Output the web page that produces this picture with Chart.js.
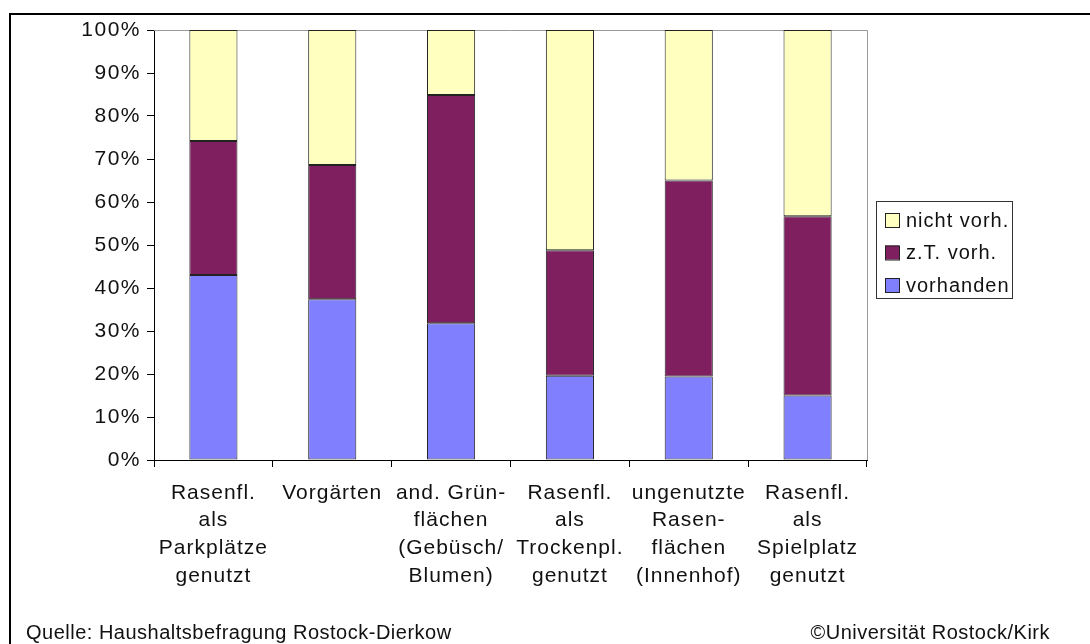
<!DOCTYPE html>
<html>
<head>
<meta charset="utf-8">
<script src="https://cdn.jsdelivr.net/npm/chart.js@4/dist/chart.umd.min.js"></script>
<style>
    body { margin: 0; background: #fff; overflow: hidden; }
    .wrap { position: relative; width: 1090px; height: 644px; }
    .frame { position: absolute; left: 9px; top: 13px; width: 1100px; height: 700px; border: 2px solid #000; }
    canvas { position: absolute; left: 0; top: 0; }
    .foot { position: absolute; top: 621px; font: 20px/22px "Liberation Sans", Arial, sans-serif; color: #111; letter-spacing: 0.5px; }
</style>
</head>
<body>
<div class="wrap">
    <div class="frame"></div>
    <canvas class="js-chart" width="1090" height="644"></canvas>
    <div class="foot" style="left: 26px;">Quelle: Haushaltsbefragung Rostock-Dierkow</div>
    <div class="foot" style="right: 40px;">©Universität Rostock/Kirk</div>
</div>
<script>
const ctx = document.querySelector('.js-chart').getContext('2d');

const categories = [
    ['Rasenfl.', 'als', 'Parkplätze', 'genutzt'],
    ['Vorgärten'],
    ['and. Grün-', 'flächen', '(Gebüsch/', 'Blumen)'],
    ['Rasenfl.', 'als', 'Trockenpl.', 'genutzt'],
    ['ungenutzte', 'Rasen-', 'flächen', '(Innenhof)'],
    ['Rasenfl.', 'als', 'Spielplatz', 'genutzt'],
];
const vorhanden = [43.0, 37.4, 31.8, 19.6, 19.4, 15.0];
const teilweise = [31.2, 31.2, 53.1, 29.2, 45.6, 41.7];
const nichtVorh = [25.8, 31.4, 15.1, 51.2, 35.0, 43.3];
const yTicks = [0, 10, 20, 30, 40, 50, 60, 70, 80, 90, 100];

const FONT = '"Liberation Sans", Arial, sans-serif';

// the old office rendering spreads letters out a little
function spreadTicks(scale, px) {
    const draw = scale.drawLabels.bind(scale);
    scale.drawLabels = function (area) {
        const c = this.ctx;
        c.save();
        c.letterSpacing = px + 'px';
        draw(area);
        c.restore();
    };
}

// gray top/right edge of the plot area
const plotFrame = {
    id: 'plotFrame',
    beforeDatasetsDraw(chart) {
        const { ctx, chartArea: a } = chart;
        ctx.save();
        ctx.strokeStyle = '#999';
        ctx.lineWidth = 1;
        ctx.beginPath();
        ctx.moveTo(a.left, a.top + 0.5);
        ctx.lineTo(a.right + 0.5, a.top + 0.5);
        ctx.lineTo(a.right + 0.5, a.bottom);
        ctx.stroke();
        ctx.restore();
    }
};

// boxed legend, reversed order like Excel
const boxLegend = {
    id: 'boxLegend',
    afterDraw(chart) {
        const { ctx, chartArea: a } = chart;
        const x = a.right + 9, y = 201, w = 136, h = 97;
        ctx.save();
        ctx.letterSpacing = '1px';
        ctx.strokeStyle = '#333';
        ctx.lineWidth = 1;
        ctx.strokeRect(x + 0.5, y + 0.5, w, h);
        ctx.font = '20px ' + FONT;
        ctx.textBaseline = 'middle';
        const sets = chart.data.datasets.slice().reverse();
        sets.forEach((ds, i) => {
            const cy = y + 19 + i * 32.5;
            ctx.fillStyle = ds.backgroundColor;
            ctx.fillRect(x + 9, cy - 7, 14, 14);
            ctx.strokeStyle = '#222';
            ctx.strokeRect(x + 9.5, cy - 6.5, 14, 14);
            ctx.fillStyle = '#111';
            ctx.fillText(ds.label, x + 30, cy + 1);
        });
        ctx.restore();
    }
};

new Chart(ctx, {
    type: 'bar',
    data: {
        labels: categories,
        datasets: [
            { label: 'vorhanden', data: vorhanden, backgroundColor: '#8080ff' },
            { label: 'z.T. vorh.', data: teilweise, backgroundColor: '#7f1f5f' },
            { label: 'nicht vorh.', data: nichtVorh, backgroundColor: '#ffffc0' },
        ].map(ds => ({
            ...ds,
            borderColor: '#222',
            borderWidth: 1,
            borderSkipped: false,
            categoryPercentage: 1,
            barPercentage: 0.405,
        }))
    },
    options: {
        responsive: false,
        animation: false,
        layout: { padding: { left: 0, top: 30, right: 223, bottom: 0 } },
        plugins: {
            legend: { display: false },
            tooltip: { enabled: false },
        },
        scales: {
            x: {
                stacked: true,
                grid: { drawOnChartArea: false, drawTicks: true, tickLength: 7, color: '#000', offset: true },
                border: { display: true, color: '#000', width: 1 },
                ticks: {
                    color: '#111',
                    font: { family: FONT, size: 21, lineHeight: 1.32 },
                    padding: 12,
                    maxRotation: 0,
                    autoSkip: false,
                },
                afterFit(scale) { scale.height = 184; },
                afterUpdate(scale) { if (!scale._spread) { spreadTicks(scale, 1); scale._spread = true; } },
            },
            y: {
                stacked: true,
                min: 0,
                max: 100,
                afterBuildTicks(scale) { scale.ticks = yTicks.map(value => ({ value })); },
                grid: { drawOnChartArea: false, drawTicks: true, tickLength: 7, color: '#000' },
                border: { display: true, color: '#000', width: 1 },
                ticks: {
                    color: '#111',
                    font: { family: FONT, size: 21 },
                    padding: 6,
                    callback(value) {
                        return value + '%';
                    }
                },
                afterFit(scale) { scale.width = 154; },
                afterUpdate(scale) { if (!scale._spread) { spreadTicks(scale, 1.5); scale._spread = true; } },
            }
        }
    },
    plugins: [plotFrame, boxLegend]
});
</script>
</body>
</html>
